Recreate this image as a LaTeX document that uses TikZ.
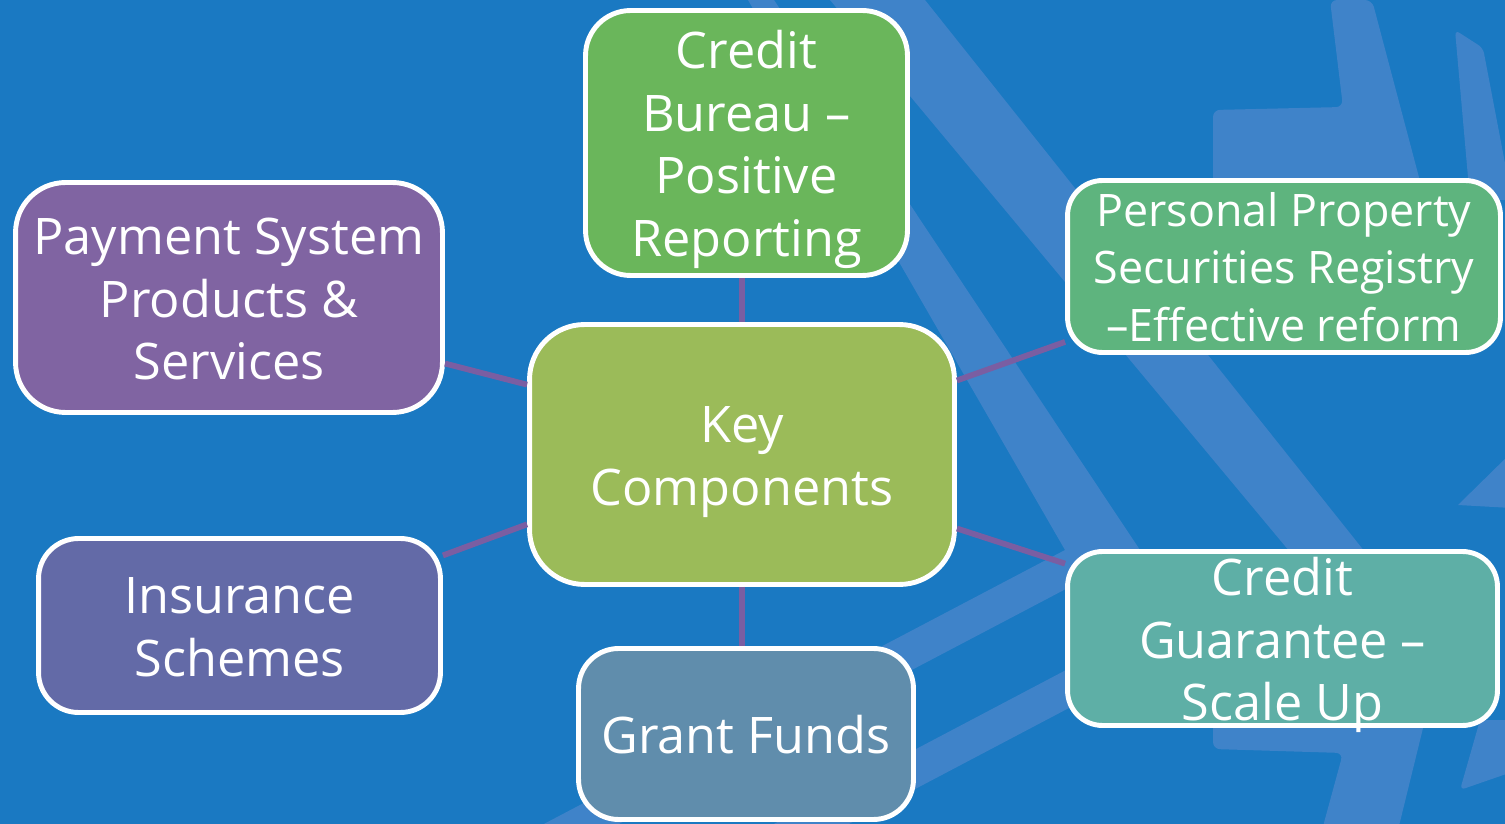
\documentclass[tikz,border=0pt]{standalone}
\usepackage{fontspec}
\setmainfont{Open Sans}
\definecolor{bgblue}{RGB}{26,121,194}
\definecolor{band}{RGB}{63,131,201}
\definecolor{cbgreen}{RGB}{106,182,91}
\definecolor{payviolet}{RGB}{128,100,162}
\definecolor{ppsrgreen}{RGB}{94,180,126}
\definecolor{keygreen}{RGB}{155,187,89}
\definecolor{insblue}{RGB}{99,106,167}
\definecolor{cgteal}{RGB}{94,175,166}
\definecolor{grantblue}{RGB}{96,141,172}
\definecolor{linkviolet}{RGB}{122,94,162}
% fixed ascent/descent for first and last caption lines, so every caption centres alike
\newcommand\hubtop{\rule{0pt}{1.025em}}
\newcommand\hubbot{\rule[-0.25em]{0pt}{0pt}}
\begin{document}
\begin{tikzpicture}[x=0.02cm,y=-0.02cm,
  comp/.style={draw=white, line width=2.8pt, inner sep=0pt},
  caption/.style={text=white, align=center, inner sep=0pt,
    font=\fontsize{28.7}{35.7}\selectfont},
  smallcaption/.style={caption, font=\fontsize{25.5}{32.6}\selectfont},
  link/.style={draw=linkviolet, line width=3.3pt}]
  % canvas and backdrop chevrons
  \useasboundingbox (0,0) rectangle (1505,824);
  \clip (0,0) rectangle (1505,824);
  \fill[bgblue] (0,0) rectangle (1505,824);
  \fill[band] (748,0) -- (774,0) -- (1140,550) -- (615,826) -- (540,826) -- (1065,550) -- cycle;
  \fill[band] (830,0) -- (925,0) -- (1365,552) -- (845,826) -- (770,826) -- (1290,552) -- cycle;
  \fill[band, rounded corners=4pt] (1330,0) -- (1372,0) -- (1425,200) -- (1213,200) -- (1213,110) -- (1343,107) -- cycle;
  \fill[band, rounded corners=3pt] (1455,30) -- (1483,48) -- (1512,200) -- (1470,200) -- cycle;
  \fill[band] (1458,505) -- (1512,452) -- (1512,508) -- cycle;
  \fill[band, rounded corners=4pt] (1213,720) -- (1213,749) -- (1343,753) -- (1322,830) -- (1398,830) -- (1425,720) -- cycle;
  \fill[band, rounded corners=3pt] (1460,790) -- (1480,720) -- (1512,720) -- (1512,772) -- cycle;

  % component boxes
  \node[comp, fill=cbgreen, rounded corners=0.9cm, minimum width=6.44cm, minimum height=5.3cm,
    label={[caption]center:{\hubtop Credit\\Bureau –\\Positive\\Reporting\hubbot}}]
    (cb) at (746.5,143) {};
  \node[comp, fill=payviolet, rounded corners=1cm, minimum width=8.54cm, minimum height=4.6cm,
    label={[caption]center:{\hubtop Payment System\\Products \&\\Services\hubbot}}]
    (pay) at (229,297.5) {};
  \node[comp, fill=ppsrgreen, rounded corners=0.7cm, minimum width=8.66cm, minimum height=3.44cm,
    label={[smallcaption]center:{\hubtop Personal Property\\Securities Registry\\–Effective reform\hubbot}}]
    (ppsr) at (1284,266.5) {};
  \node[comp, fill=keygreen, rounded corners=1.1cm, minimum width=8.5cm, minimum height=5.2cm,
    label={[caption]center:{\hubtop Key\\Components\hubbot}}]
    (key) at (742,454.5) {};
  \node[comp, fill=insblue, rounded corners=0.8cm, minimum width=8.04cm, minimum height=3.48cm,
    label={[caption]center:{\hubtop Insurance\\Schemes\hubbot}}]
    (ins) at (239.5,625.5) {};
  \node[comp, fill=cgteal, rounded corners=0.7cm, minimum width=8.6cm, minimum height=3.48cm,
    label={[caption]center:{\hubtop Credit\\Guarantee –\\Scale Up\hubbot}}]
    (cg) at (1282.5,638.5) {};
  \node[comp, fill=grantblue, rounded corners=0.8cm, minimum width=6.7cm, minimum height=3.42cm,
    label={[caption]center:{\hubtop Grant Funds\hubbot}}]
    (gf) at (746,734) {};

  % connectors from the hub
  \draw[link] (key.north) -- (key.north |- cb.south);
  \draw[link] (key.south) -- (key.south |- gf.north);
  \draw[link] (key.162.8) -- (pay.343.1);
  \draw[link] (key.198.6) -- (ins.19.6);
  \draw[link] (key.19.1) -- (ppsr.199.2);
  \draw[link] (key.341.4) -- (cg.161.6);
\end{tikzpicture}
\end{document}
